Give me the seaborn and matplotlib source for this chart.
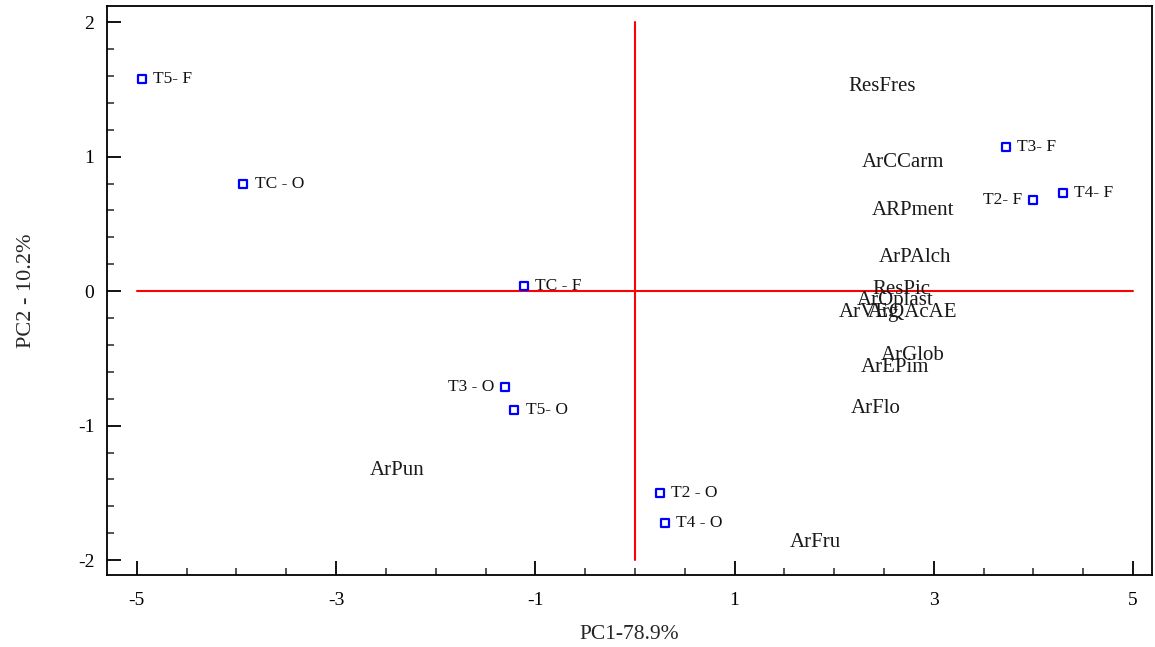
import matplotlib
matplotlib.use("Agg")
import matplotlib.pyplot as plt
import seaborn as sns
import pandas as pd
from matplotlib.ticker import MultipleLocator

# Observations (scores)
obs_labels = ["T5- F", "TC - O", "TC - F", "T3 - O", "T5- O", "T2 - O", "T4 - O", "T3- F", "T2- F", "T4- F"]
obs_pc1 = [-4.95, -3.93, -1.11, -1.30, -1.21, 0.25, 0.30, 3.72, 4.00, 4.30]
obs_pc2 = [1.58, 0.80, 0.04, -0.71, -0.88, -1.50, -1.72, 1.07, 0.68, 0.73]
obs_side = ["r", "r", "r", "l", "r", "r", "r", "r", "l", "r"]

# Variables (loadings, text only)
var_labels = ["ResFres", "ArCCarm", "ARPment", "ArPAlch", "ResPic", "ArOplast", "ArVEg",
              "ArQAcAE", "ArGlob", "ArEPim", "ArFlo", "ArPun", "ArFru"]
var_pc1 = [2.48, 2.69, 2.79, 2.81, 2.67, 2.61, 2.35, 2.79, 2.79, 2.61, 2.42, -2.39, 1.81]
var_pc2 = [1.52, 0.96, 0.60, 0.25, 0.01, -0.07, -0.16, -0.16, -0.48, -0.57, -0.87, -1.33, -1.87]

x_ticks = [-5, -3, -1, 1, 3, 5]
y_ticks = [-2, -1, 0, 1, 2]

sns.set_theme(style="white")
plt.rcParams["font.family"] = ["Liberation Serif", "DejaVu Serif"]
plt.rcParams["axes.unicode_minus"] = False

fig = plt.figure(figsize=(11.55, 6.47), dpi=100)
ax = fig.add_axes([0.0926, 0.1113, 0.9048, 0.8794])

# reference axes lines
ax.plot([-5, 5], [0, 0], color="#ff0000", lw=1.5, zorder=1)
ax.plot([0, 0], [-2, 2], color="#ff0000", lw=1.5, zorder=1)

df = pd.DataFrame({"PC1": obs_pc1, "PC2": obs_pc2, "lab": obs_labels})
sns.scatterplot(data=df, x="PC1", y="PC2", marker="s", s=28, facecolor="white",
                edgecolor="#0000ff", linewidth=1.6, ax=ax, zorder=3)

for x, y, t, s in zip(obs_pc1, obs_pc2, obs_labels, obs_side):
    if s == "r":
        ax.annotate(t, (x, y), xytext=(8, 0), textcoords="offset points",
                    ha="left", va="center", fontsize=12.5, color="#111111")
    else:
        ax.annotate(t, (x, y), xytext=(-8, 0), textcoords="offset points",
                    ha="right", va="center", fontsize=12.5, color="#111111")

for x, y, t in zip(var_pc1, var_pc2, var_labels):
    ax.text(x, y, t, ha="center", va="center", fontsize=15, color="#1a1a1a")

ax.set_xlim(-5.3, 5.19)
ax.set_ylim(-2.11, 2.12)
ax.set_xticks(x_ticks)
ax.set_yticks(y_ticks)
ax.xaxis.set_minor_locator(MultipleLocator(0.5))
ax.yaxis.set_minor_locator(MultipleLocator(0.2))
ax.tick_params(axis="both", which="major", direction="in", length=10, width=1.3,
               labelsize=14, colors="black")
ax.tick_params(axis="x", which="major", pad=12)
ax.tick_params(axis="y", which="major", pad=9)
ax.tick_params(axis="both", which="minor", direction="in", length=5, width=1.1,
               bottom=True, left=True)
ax.tick_params(axis="x", which="both", top=False)
ax.tick_params(axis="y", which="both", right=False)
ax.tick_params(axis="both", which="major", bottom=True, left=True)

for sp in ax.spines.values():
    sp.set_visible(True)
    sp.set_color("black")
    sp.set_linewidth(1.3)

ax.set_xlabel("PC1-78.9%", fontsize=15.5, labelpad=12)
ax.set_ylabel("PC2 - 10.2%", fontsize=16, labelpad=30)
ax.grid(False)

fig.savefig("out.png", dpi=100)
